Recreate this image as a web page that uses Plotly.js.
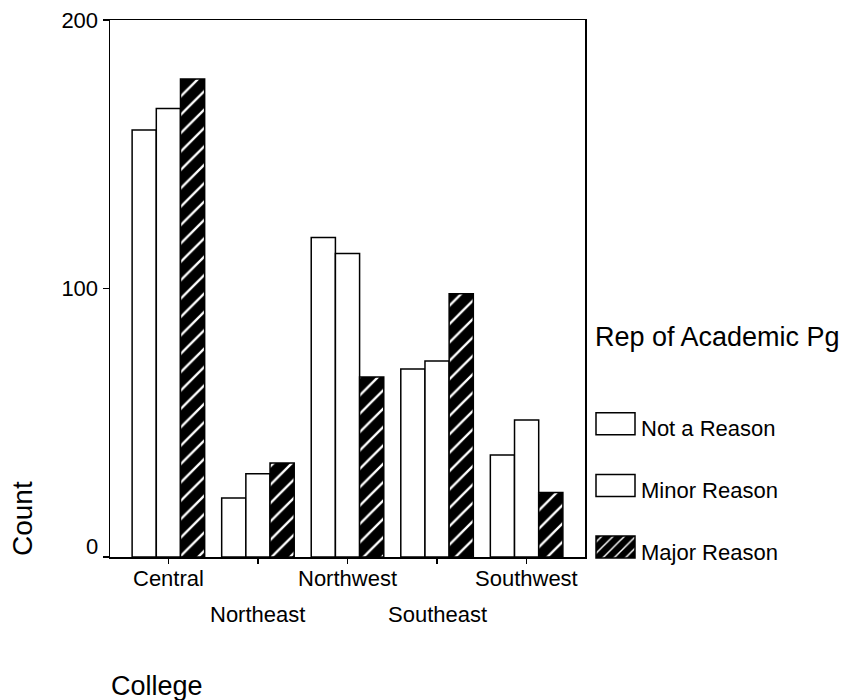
<!DOCTYPE html>
<html>
<head>
<meta charset="utf-8">
<script src="https://cdn.plot.ly/plotly-3.0.1.min.js"></script>
<style>html,body{margin:0;padding:0;background:#fff;}#chart{width:853px;height:700px;}</style>
</head>
<body>
<div id="chart"></div>
<script>
const categories = ["Central", "Northeast", "Northwest", "Southeast", "Southwest"];
const seriesNames = ["Not a Reason", "Minor Reason", "Major Reason"];
const notAReason = [159, 22, 119, 70, 38];
const minorReason = [167, 31, 113, 73, 51];
const majorReason = [178, 35, 67, 98, 24];
const yTickVals = [0, 100, 200];
const yTickText = ["", "100", "200"];
const zeroLabel = "0";
const legendTitle = "Rep of Academic Pg";
const xTitle = "College";
const yTitle = "Count";

const FONT = "Liberation Sans, Arial, sans-serif";
const lineStyle = {color: "black", width: 1.5};

const traces = [
  {type: "bar", name: seriesNames[0], x: categories, y: notAReason, legendgroup: "a",
   marker: {color: "white", line: lineStyle}},
  {type: "bar", name: seriesNames[1], x: categories, y: minorReason, legendgroup: "b",
   marker: {color: "white", line: lineStyle}},
  {type: "bar", name: seriesNames[2], x: categories, y: majorReason, legendgroup: "c",
   marker: {color: "black", line: lineStyle,
            pattern: {shape: "/", bgcolor: "black", fgcolor: "white", size: 13, solidity: 0.18}}}
];

const annotations = [];
categories.forEach((c, i) => {
  annotations.push({x: c, xref: "x", y: 0, yref: "paper", text: c, showarrow: false,
    xanchor: "center", yanchor: "middle", yshift: (i % 2 === 0) ? -21 : -57,
    font: {family: FONT, size: 22, color: "black"}});
});
// "0" tick label sits slightly above the baseline in the reference
annotations.push({x: 0, xref: "paper", y: 0, yref: "y", text: zeroLabel, showarrow: false,
  xanchor: "right", yanchor: "middle", xshift: -10, yshift: 11,
  font: {family: FONT, size: 22, color: "black"}});
annotations.push({x: (156.5 - 110) / 475, xref: "paper", y: (557 - 686) / 537, yref: "paper", text: xTitle,
  showarrow: false, xanchor: "center", yanchor: "middle", font: {family: FONT, size: 27, color: "black"}});
annotations.push({x: (22 - 110) / 475, xref: "paper", y: (557 - 519) / 537, yref: "paper", text: yTitle, textangle: -90,
  showarrow: false, xanchor: "center", yanchor: "middle", font: {family: FONT, size: 28, color: "black"}});
annotations.push({x: (593 - 110) / 475, xref: "paper", y: (557 - 337) / 537, yref: "paper", text: legendTitle,
  showarrow: false, xanchor: "left", yanchor: "middle", font: {family: FONT, size: 27, color: "black"}});

const layout = {
  width: 853, height: 700,
  margin: {l: 110, r: 268, t: 20, b: 143, pad: 0},
  paper_bgcolor: "white", plot_bgcolor: "white",
  font: {family: FONT, color: "black"},
  barmode: "group", bargap: 0.19, bargroupgap: 0,
  showlegend: true,
  legend: {x: (601 - 110) / 475, xanchor: "left", y: (557 - 407) / 537, yanchor: "top",
           traceorder: "grouped", tracegroupgap: 30,
           font: {family: FONT, size: 22, color: "black"}, bgcolor: "rgba(0,0,0,0)"},
  xaxis: {type: "category", range: [-0.652, 4.652], showticklabels: false,
          ticks: "outside", ticklen: 5, tickwidth: 1.5, tickcolor: "black",
          showline: true, linecolor: "black", linewidth: 1.5, mirror: true,
          showgrid: false, zeroline: false, fixedrange: true},
  yaxis: {range: [0, 200], tickvals: yTickVals, ticktext: yTickText, ticks: "outside", ticklen: 6, tickwidth: 1.5,
          tickcolor: "black", ticklabelstandoff: 0,
          tickfont: {family: FONT, size: 22, color: "black"},
          showline: true, linecolor: "black", linewidth: 1.5, mirror: true,
          showgrid: false, zeroline: false, fixedrange: true},
  annotations: annotations
};

Plotly.newPlot("chart", traces, layout, {displayModeBar: false, staticPlot: true}).then(gd => {
  // widen legend swatches to match the reference's boxes, and let them extend past the legend clip
  gd.querySelectorAll(".legend [clip-path]").forEach(el => el.removeAttribute("clip-path"));
  gd.querySelectorAll(".legend .legendpoints path").forEach(p => {
    p.setAttribute("d", "M-25,-15H14V7H-25Z");
  });
});
</script>
</body>
</html>
